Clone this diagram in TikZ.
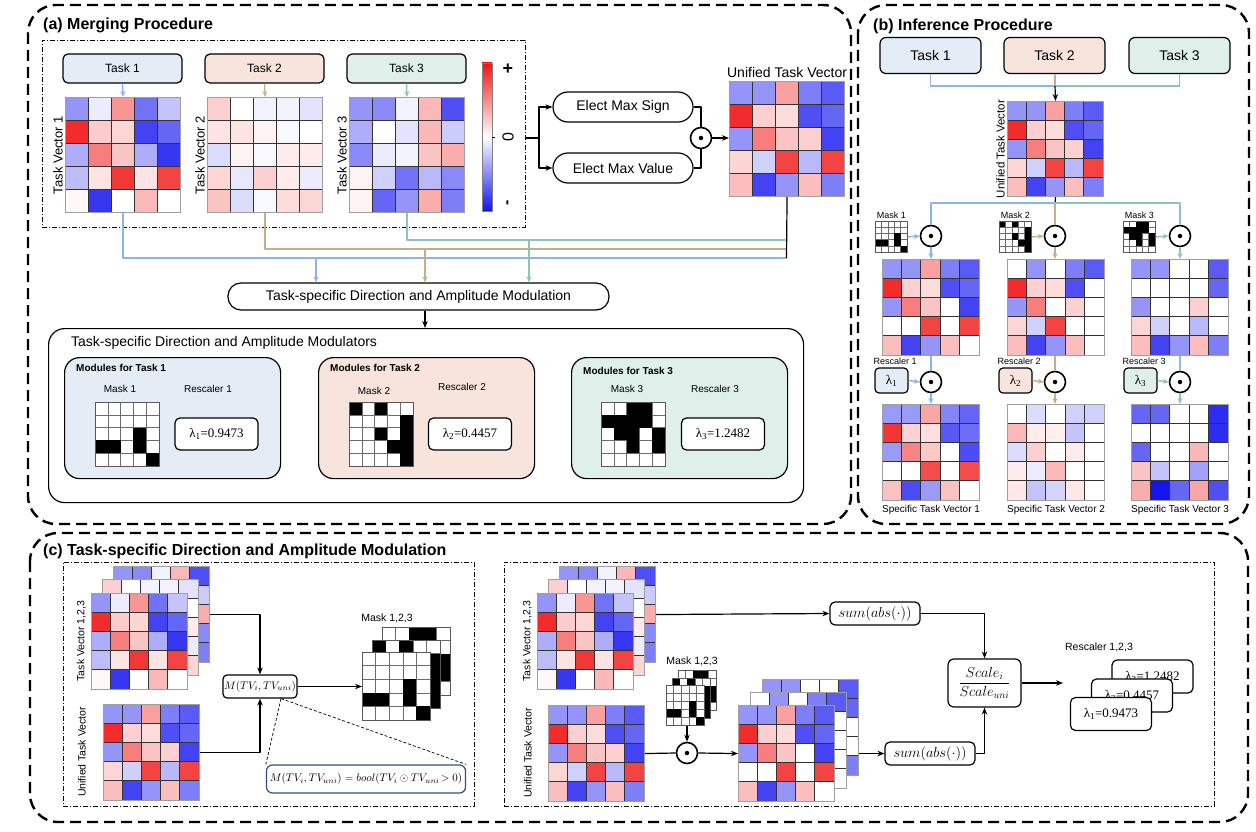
\RequirePackage{fix-cm}
\documentclass[tikz,border=0pt]{standalone}
\usepackage{fontspec}
\setmainfont{Liberation Sans}
\newfontfamily\lamfont{Liberation Serif}
\usetikzlibrary{arrows.meta,calc}
\definecolor{hred}{RGB}{240,20,20}
\definecolor{hblue}{RGB}{20,20,240}
\definecolor{lblue}{RGB}{140,180,235}
\definecolor{ltan}{RGB}{196,176,136}
\definecolor{lteal}{RGB}{140,196,182}
\definecolor{tfa}{RGB}{228,236,246}
\definecolor{tfb}{RGB}{247,229,221}
\definecolor{tfc}{RGB}{222,240,233}
\definecolor{fbl}{RGB}{50,80,130}
\newcommand\fsz[1]{\fontsize{#1}{#1}\selectfont}
\newcommand\hmcol[1]{\pgfmathtruncatemacro\hv{#1}%
  \ifnum\hv>0 \edef\cc{hred!\hv!white}\else
  \ifnum\hv<0 \pgfmathtruncatemacro\hv{-\hv}\edef\cc{hblue!\hv!white}\else
  \def\cc{white}\fi\fi}
% name, x, y, cw, ch, data macro
\newcommand\hmap[6]{%
  \foreach \hrow [count=\hr] in #6 {
    \foreach \hval [count=\hc] in \hrow {
      \hmcol{\hval}
      \filldraw[fill=\cc, draw=black!80, line width=0.7pt] ({#2+(\hc-1)*#4},{#3+(\hr-1)*#5}) rectangle ++(#4,#5);
    }
  }
  \node[draw=gray!75, line width=1.1pt, inner sep=0pt, minimum width={5*#4*1pt}, minimum height={5*#5*1pt}, anchor=north west] (#1) at (#2,#3) {};
}
% name, x, y, cw, ch, black cells macro
\newcommand\mgrid[6]{%
  \foreach \mr in {1,...,5}{\foreach \mc in {1,...,5}{
    \filldraw[fill=white, draw=gray!85!black, line width=0.6pt] ({#2+(\mc-1)*#4},{#3+(\mr-1)*#5}) rectangle ++(#4,#5);}}
  \foreach \mr/\mc in #6 {\fill[black] ({#2+(\mc-1)*#4},{#3+(\mr-1)*#5}) rectangle ++(#4,#5);}
  \node[draw=gray!70!black, line width=0.8pt, inner sep=0pt, minimum width={5*#4*1pt}, minimum height={5*#5*1pt}, anchor=north west] (#1) at (#2,#3) {};
}
\def\TVa{{-45,-8,45,-60,-25},{90,22,18,-80,-65},{-35,55,25,-35,-85},{-28,12,85,12,80},{3,-85,0,30,0}}
\def\TVb{{20,0,-5,-5,-12},{12,12,5,-3,0},{-15,5,-3,8,8},{18,-10,20,8,-8},{25,-15,-3,15,18}}
\def\TVc{{-45,-50,-5,30,-75},{-35,0,-12,30,-22},{-50,-8,-5,25,35},{5,-20,-60,-30,-50},{5,-65,-45,35,-55}}
\def\UNI{{-45,-45,40,-55,-70},{90,20,15,-75,-65},{-45,55,25,20,-80},{18,-20,80,-30,80},{28,-80,-45,28,-55}}
\def\MKa{{-45,-45,40,-55,-70},{90,20,15,-75,-65},{-45,55,25,0,-80},{0,0,80,0,80},{28,-80,-45,28,0}}
\def\MKb{{0,-45,0,-55,-70},{90,20,15,-75,0},{-45,55,0,20,0},{18,-20,80,0,0},{28,-80,-45,28,0}}
\def\MKc{{-45,-45,0,0,-70},{0,0,0,0,-65},{-45,0,0,20,0},{18,-20,0,-30,0},{28,-80,-45,28,-55}}
\def\SPa{{-43,-43,38,-52,-66},{86,19,14,-71,-62},{-43,52,24,0,-76},{0,0,76,0,76},{27,-76,-43,27,0}}
\def\SPb{{0,-15,0,-20,-20},{30,8,7,-25,0},{-15,20,0,8,0},{8,-8,30,0,0},{10,-25,-18,10,0}}
\def\SPc{{-65,-65,0,0,-90},{0,0,0,0,-90},{-65,0,0,30,0},{25,-25,0,-40,0},{35,-100,-65,38,-75}}
\def\MaskA{3/4,4/1,4/2,4/4,5/5}
\def\MaskB{1/1,1/3,2/5,3/3,3/5,4/4,4/5,5/5}
\def\MaskC{1/3,1/4,2/1,2/2,2/3,2/4,3/2,3/3,3/5,4/3,4/5}
\tikzset{
  panel/.style={draw, line width=2.4pt, dash pattern=on 11pt off 6pt, rounded corners=28pt},
  ddot/.style={draw, line width=0.9pt, dash pattern=on 5pt off 2pt on 1pt off 2pt, inner sep=0pt, anchor=north west},
  arr/.style={line width=1.2pt, -{Stealth[length=7pt,width=5.5pt]}},
  ln/.style={line width=1.2pt},
  cla/.style={draw=lblue, line width=1.4pt},
  clb/.style={draw=ltan, line width=1.4pt},
  clc/.style={draw=lteal, line width=1.4pt},
  caa/.style={cla, -{Stealth[length=6pt,width=5pt]}},
  cab/.style={clb, -{Stealth[length=6pt,width=5pt]}},
  cac/.style={clc, -{Stealth[length=6pt,width=5pt]}},
  odot/.style={circle, draw, line width=1.6pt, fill=white, minimum size=21pt, inner sep=0pt,
    label={[circle, fill=black, inner sep=0pt, minimum size=4.5pt]center:{}}},
  taskbox/.style={draw, line width=1.2pt, rounded corners=5pt, minimum width=119pt, minimum height=29pt, font=\fsz{12}},
  tbb/.style={draw, line width=1.2pt, rounded corners=6pt, minimum width=101pt, minimum height=36pt, font=\fsz{14}},
  pill/.style={draw, line width=1.2pt, rounded corners=15pt, minimum width=140pt, minimum height=30pt, font=\fsz{14}},
  modbox/.style={draw, line width=1.2pt, rounded corners=15pt, minimum width=216pt, minimum height=121pt, anchor=north west},
  lamb/.style={draw, line width=1.2pt, rounded corners=5pt, fill=white, minimum width=83pt, minimum height=32pt, font=\lamfont\fsz{13}},
  lams/.style={draw, line width=1.2pt, rounded corners=4pt, minimum width=33pt, minimum height=25pt, font=\lamfont\fsz{13}},
  rbox/.style={draw, line width=1.2pt, rounded corners=5pt, fill=white, minimum width=81pt, minimum height=33pt, font=\lamfont\fsz{13}},
  sumbox/.style={draw, line width=1.2pt, rounded corners=5pt, minimum width=90pt, minimum height=23pt, inner sep=1pt, font=\fsz{14.4}},
  ttl/.style={anchor=west, inner sep=0pt, font=\bfseries\fsz{16}},
}
\begin{document}
\begin{tikzpicture}[x=1pt,y=-1pt,line join=round]
\fill[white] (0,0) rectangle (1256,832);
\useasboundingbox (0,0) rectangle (1256,832);

%% ================= (a) =================
\draw[panel] (28,5) rectangle (851,524);
\node[ttl] (tta) at (43,25) {(a) Merging Procedure};
\node[ddot, minimum width=483pt, minimum height=187pt] (boxA) at (42,40) {};

\node[taskbox, fill=tfa] (ta1) at (122.5,68.5) {Task 1};
\node[taskbox, fill=tfb] (ta2) at (264.5,68.5) {Task 2};
\node[taskbox, fill=tfc] (ta3) at (406.5,68.5) {Task 3};
\hmap{tv1}{65}{97}{23}{23}{\TVa}
\hmap{tv2}{207}{97}{23}{23}{\TVb}
\hmap{tv3}{349}{97}{23}{23}{\TVc}
\node[rotate=90, anchor=south, inner sep=2pt, font=\fsz{13}] (ltv1) at (tv1.west) {Task Vector 1};
\node[rotate=90, anchor=south, inner sep=2pt, font=\fsz{13}] (ltv2) at (tv2.west) {Task Vector 2};
\node[rotate=90, anchor=south, inner sep=2pt, font=\fsz{13}] (ltv3) at (tv3.west) {Task Vector 3};
\draw[caa] (ta1.south) -- (tv1.north);
\draw[cab] (ta2.south) -- (tv2.north);
\draw[cac] (ta3.south) -- (tv3.north);

% colour bar
\shade[top color=hred, bottom color=hblue, middle color=white] (482,63) rectangle (492,211);
\draw[line width=0.5pt, gray] (482,63) rectangle (492,211);
\draw[line width=0.8pt] (492,137) -- (495,137);
\node[font=\bfseries\fsz{18}, inner sep=0pt] (cbp) at (508,69) {+};
\node[font=\fsz{16}, rotate=90, inner sep=0pt] (cbz) at (508,137) {0};
\node[font=\bfseries\fsz{16}, rotate=90, inner sep=0pt] (cbm) at (509,203) {-};

% elect
\node[pill] (es) at (623,107) {Elect Max Sign};
\node[pill] (ev) at (623,168) {Elect Max Value};
\node[odot] (oa) at (701,138) {};
\coordinate (br) at (539,138);
\draw[ln] (boxA.east |- oa) -- (br);
\draw[arr] (br) |- (es.west);
\draw[arr] (br) |- (ev.west);
\draw[ln] (es.east) -| (oa.north);
\draw[ln] (ev.east) -| (oa.south);
\hmap{uniA}{729}{81}{23}{23}{\UNI}
\draw[arr] (oa.east) -- (uniA.west |- oa);
\node[above, inner sep=3pt, font=\fsz{14}] (luniA) at (uniA.north) {Unified Task Vector};

% merging lines
\coordinate (ja1) at (786.5,258);
\coordinate (ja2) at (786.5,249);
\coordinate (ja3) at (786.5,240);
\draw[cla] (tv1.south) |- (ja1);
\draw[clb] (tv2.south) |- (ja2);
\draw[clc] (tv3.south) |- (ja3);
\draw[ln] (uniA.south) -- (ja1);
\node[draw, line width=1.2pt, rounded corners=13pt, minimum width=381pt, minimum height=27pt, font=\fsz{14}] (tsdam) at (418.5,296.5) {Task-specific Direction and Amplitude Modulation};
\coordinate (d1) at (316,258);
\coordinate (d2) at (425,249);
\coordinate (d3) at (529,240);
\draw[caa] (d1) -- (d1 |- tsdam.north);
\draw[cab] (d2) -- (d2 |- tsdam.north);
\draw[cac] (d3) -- (d3 |- tsdam.north);

\node[draw, line width=1.2pt, rounded corners=16pt, minimum width=755pt, minimum height=174pt, anchor=north west] (mods) at (48,328) {};
\draw[arr] (tsdam.south -| d2) -- (mods.north -| d2);
\node[anchor=west, inner sep=0pt, font=\fsz{14}] (lmods) at (71,343) {Task-specific Direction and Amplitude Modulators};

% module 1
\node[modbox, fill=tfa] (m1) at (64,357) {};
\node[anchor=west, inner sep=0pt, font=\bfseries\fsz{10}] (lm1) at (76,368) {Modules for Task 1};
\node[font=\fsz{10}] (lmk1) at (120,389) {Mask 1};
\node[font=\fsz{10}] (lrs1) at (208,389) {Rescaler 1};
\mgrid{mka1}{95}{402}{12.8}{12.8}{\MaskA}
\node[lamb] (la1) at (216.5,434) {λ\textsubscript{1}=0.9473};
% module 2
\node[modbox, fill=tfb] (m2) at (318,357) {};
\node[anchor=west, inner sep=0pt, font=\bfseries\fsz{10}] (lm2) at (330,368) {Modules for Task 2};
\node[font=\fsz{10}] (lmk2) at (374,391) {Mask 2};
\node[font=\fsz{10}] (lrs2) at (462,387) {Rescaler 2};
\mgrid{mka2}{349}{402}{12.8}{12.8}{\MaskB}
\node[lamb] (la2) at (470,434) {λ\textsubscript{2}=0.4457};
% module 3
\node[modbox, fill=tfc] (m3) at (571,357) {};
\node[anchor=west, inner sep=0pt, font=\bfseries\fsz{10}] (lm3) at (583,371) {Modules for Task 3};
\node[font=\fsz{10}] (lmk3) at (627,389) {Mask 3};
\node[font=\fsz{10}] (lrs3) at (715,389) {Rescaler 3};
\mgrid{mka3}{601}{402}{12.8}{12.8}{\MaskC}
\node[lamb] (la3) at (723,434) {λ\textsubscript{3}=1.2482};

%% ================= (b) =================
\draw[panel] (858,5) rectangle (1249,524);
\node[ttl] (ttb) at (873,26) {(b) Inference Procedure};
\node[tbb, fill=tfa] (tb1) at (930.5,55.5) {Task 1};
\node[tbb, fill=tfb] (tb2) at (1054.5,55.5) {Task 2};
\node[tbb, fill=tfc] (tb3) at (1179.5,55.5) {Task 3};
\coordinate (jb) at (1055,86);
\draw[cla] (tb1.south) |- (jb);
\draw[clc] (tb3.south) |- (jb);
\draw[clb] (tb2.south -| jb) -- (jb);
\hmap{uniB}{1007}{101}{19.2}{19}{\UNI}
\draw[arr] (jb) -- (uniB.north);
\node[rotate=90, anchor=south, inner sep=2pt, font=\fsz{11.5}] (luniB) at (uniB.west) {Unified Task Vector};
\coordinate (jb2) at (1055,203);
\draw[ln] (uniB.south) -- (jb2);
\node[odot] (ob1) at (931,236) {};
\node[odot] (ob2) at (1055,236) {};
\node[odot] (ob3) at (1180,236) {};
\draw[cla] (jb2) -| (ob1.north);
\draw[clc] (jb2) -| (ob3.north);
\draw[clb] (jb2) -- (ob2.north);
\mgrid{mb1}{875}{221}{6.4}{6.2}{\MaskA}
\mgrid{mb2}{999}{221}{6.4}{6.2}{\MaskB}
\mgrid{mb3}{1123}{221}{6.4}{6.2}{\MaskC}
\node[above, inner sep=2pt, font=\fsz{9}] (lmb1) at (mb1.north) {Mask 1};
\node[above, inner sep=2pt, font=\fsz{9}] (lmb2) at (mb2.north) {Mask 2};
\node[above, inner sep=2pt, font=\fsz{9}] (lmb3) at (mb3.north) {Mask 3};
\draw[caa] (mb1.east) -- (ob1.west);
\draw[cab] (mb2.east) -- (ob2.west);
\draw[cac] (mb3.east) -- (ob3.west);
\hmap{pb1}{882}{259}{19.4}{19.2}{\MKa}
\hmap{pb2}{1007}{259}{19.4}{19.2}{\MKb}
\hmap{pb3}{1131}{259}{19.4}{19.2}{\MKc}
\draw[caa] (ob1.south) -- (ob1.south |- pb1.north);
\draw[cab] (ob2.south) -- (ob2.south |- pb2.north);
\draw[cac] (ob3.south) -- (ob3.south |- pb3.north);
\node[odot] (oc1) at (931,382) {};
\node[odot] (oc2) at (1055,382) {};
\node[odot] (oc3) at (1180,382) {};
\draw[cla] (pb1.south -| oc1) -- (oc1.north);
\draw[clb] (pb2.south -| oc2) -- (oc2.north);
\draw[clc] (pb3.south -| oc3) -- (oc3.north);
\node[lams, fill=tfa] (lb1) at (891.5,380.5) {λ\textsubscript{1}};
\node[lams, fill=tfb] (lb2) at (1015.5,380.5) {λ\textsubscript{2}};
\node[lams, fill=tfc] (lb3) at (1140.5,380.5) {λ\textsubscript{3}};
\node[anchor=south west, inner sep=1pt, font=\fsz{9}] (lrb1) at ($(lb1.north west)+(-2,-2)$) {Rescaler 1};
\node[anchor=south west, inner sep=1pt, font=\fsz{9}] (lrb2) at ($(lb2.north west)+(-2,-2)$) {Rescaler 2};
\node[anchor=south west, inner sep=1pt, font=\fsz{9}] (lrb3) at ($(lb3.north west)+(-2,-2)$) {Rescaler 3};
\draw[caa] (lb1.east) -- (oc1.west);
\draw[cab] (lb2.east) -- (oc2.west);
\draw[cac] (lb3.east) -- (oc3.west);
\hmap{sb1}{882}{404}{19.4}{19.2}{\SPa}
\hmap{sb2}{1007}{404}{19.4}{19.2}{\SPb}
\hmap{sb3}{1131}{404}{19.4}{19.2}{\SPc}
\draw[caa] (oc1.south) -- (oc1.south |- sb1.north);
\draw[cab] (oc2.south) -- (oc2.south |- sb2.north);
\draw[cac] (oc3.south) -- (oc3.south |- sb3.north);
\node[below, inner sep=4pt, font=\fsz{10}] (lsb1) at (sb1.south) {Specific Task Vector 1};
\node[below, inner sep=4pt, font=\fsz{10}] (lsb2) at (sb2.south) {Specific Task Vector 2};
\node[below, inner sep=4pt, font=\fsz{10}] (lsb3) at (sb3.south) {Specific Task Vector 3};

%% ================= (c) =================
\draw[panel] (30,533) rectangle (1248,822);
\node[ttl] (ttc) at (43,551) {(c) Task-specific Direction and Amplitude Modulation};
\node[ddot, minimum width=411pt, minimum height=244pt] (boxCL) at (63,562) {};
\node[ddot, minimum width=710pt, minimum height=244pt] (boxCR) at (504,562) {};

% left
\hmap{cl3}{113}{566}{19.2}{19.2}{\TVc}
\hmap{cl2}{102}{579}{19.2}{19.2}{\TVb}
\hmap{cl1}{91}{593}{19.2}{19.2}{\TVa}
\node[rotate=90, anchor=south, inner sep=0pt, font=\fsz{10.5}] (lcl) at (86,641) {Task Vector 1,2,3};
\hmap{cu}{103}{704}{19.2}{19.2}{\UNI}
\node[rotate=90, anchor=south, inner sep=0pt, font=\fsz{10.5}] (lcu) at (86,752) {Unified Task Vector};
\node[draw, line width=1.2pt, rounded corners=4pt, minimum width=68pt, minimum height=23pt, inner sep=1pt, font=\fsz{11}] (mbox) at (260,686.5) {$M(TV_i,TV_{uni})$};
\draw[arr] (cl3.east) -| (mbox.north);
\draw[arr] (cu.east) -| (mbox.south);
\mgrid{mc3}{382}{627}{13.6}{13.6}{\MaskC}
\mgrid{mc2}{372}{640}{13.6}{13.6}{\MaskB}
\mgrid{mc1}{362}{652}{13.6}{13.6}{\MaskA}
\node[font=\fsz{10.5}] (lmc) at (387,618) {Mask 1,2,3};
\draw[arr] (mbox.east) -- (mc1.west |- mbox.east);
\node[draw=fbl, line width=1.2pt, rounded corners=6pt, minimum width=198pt, minimum height=28pt, font=\fsz{11}] (fbox) at (366,779) {$M(TV_i,TV_{uni}) = bool(TV_i\odot TV_{uni}\!>0)$};
\coordinate (mq) at ($(mbox.south)+(21,0)$);
\draw[line width=0.7pt, dash pattern=on 3pt off 2pt] (mq) -- (fbox.north west);
\draw[line width=0.7pt, dash pattern=on 3pt off 2pt] (mq) -- (fbox.north east);

% right
\hmap{cr3}{559}{566}{19.2}{19.2}{\TVc}
\hmap{cr2}{548}{579}{19.2}{19.2}{\TVb}
\hmap{cr1}{537}{593}{19.2}{19.2}{\TVa}
\node[rotate=90, anchor=south, inner sep=0pt, font=\fsz{10.5}] (lcr) at (532,641) {Task Vector 1,2,3};
\hmap{cru}{548}{705}{19.2}{19.2}{\UNI}
\node[rotate=90, anchor=south, inner sep=0pt, font=\fsz{10.5}] (lcru) at (532,753) {Unified Task Vector};
\node[sumbox] (s1) at (875,613.5) {$sum\bigl(abs(\cdot)\bigr)$};
\draw[arr] (cr3.east) -- (s1.west);
\mgrid{mr3}{678}{670}{7.6}{8}{\MaskC}
\mgrid{mr2}{672}{678}{7.6}{8}{\MaskB}
\mgrid{mr1}{666}{685}{7.6}{8}{\MaskA}
\node[font=\fsz{10.5}] (lmr) at (692,661) {Mask 1,2,3};
\node[odot] (oc) at (687,753) {};
\draw[arr] (mr1.south -| oc) -- (oc.north);
\draw[ln] (cru.east) -- (oc.west);
\hmap{mk3}{762}{679}{19.2}{19.2}{\MKc}
\hmap{mk2}{750}{692}{19.2}{19.2}{\MKb}
\hmap{mk1}{738}{705}{19.2}{19.2}{\MKa}
\draw[arr] (oc.east) -- (mk1.west);
\node[sumbox] (s2) at (930,753.5) {$sum\bigl(abs(\cdot)\bigr)$};
\draw[arr] (mk3.east |- s2.west) -- (s2.west);
\node[draw, line width=1.2pt, rounded corners=6pt, minimum width=73pt, minimum height=48pt, inner sep=1pt, font=\fsz{14.4}] (sc) at (984.5,683) {$\displaystyle\frac{Scale_i}{Scale_{uni}}$};
\draw[arr] (s1.east) -| (sc.north);
\draw[arr] (s2.east) -| (sc.south);
\coordinate (rsc) at (1063,683);
\draw[arr] (sc.east) -- (rsc);
\node[font=\fsz{10.5}] (lrsc) at (1099,647) {Rescaler 1,2,3};
\node[rbox] (r3) at (1152.5,676.5) {λ\textsubscript{3}=1.2482};
\node[rbox] (r2) at (1132,695.5) {λ\textsubscript{2}=0.4457};
\node[rbox] (r1) at (1111,714) {λ\textsubscript{1}=0.9473};
\end{tikzpicture}
\end{document}
